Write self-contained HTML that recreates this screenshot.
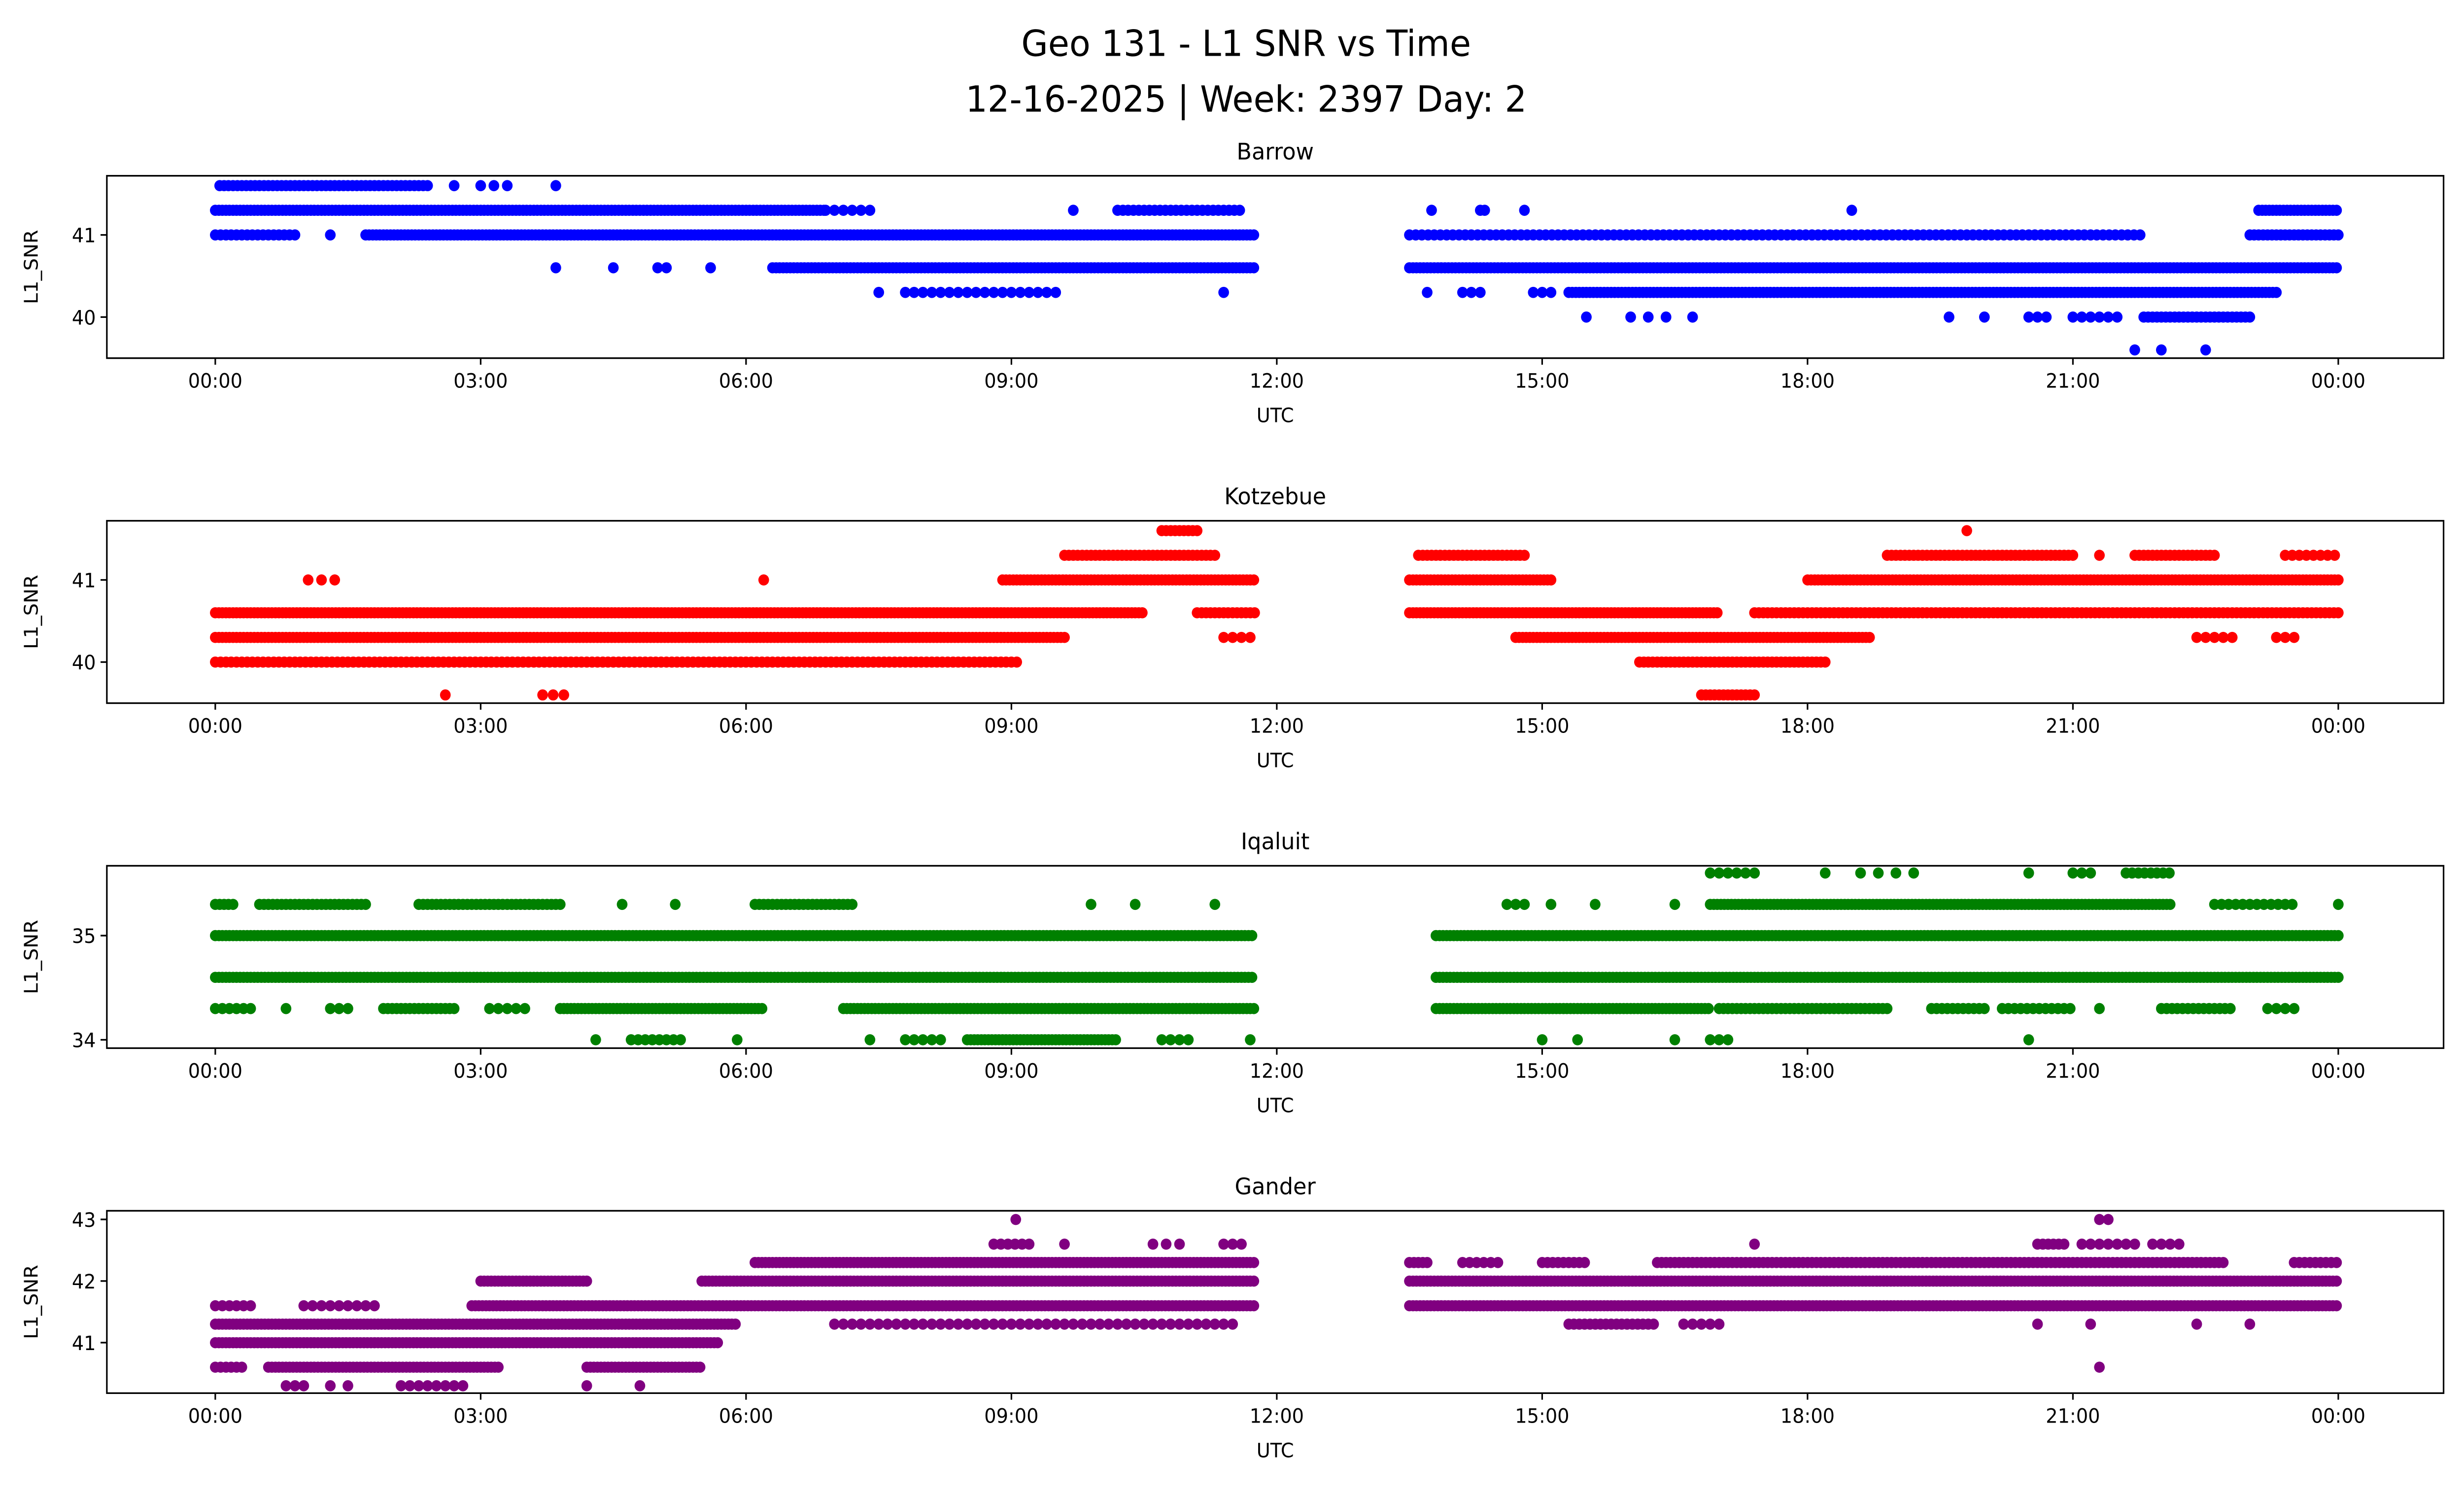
<!DOCTYPE html>
<html><head><meta charset="utf-8"><style>
html,body{margin:0;padding:0;background:#fff;overflow:hidden;width:100vw;height:100vh;}
svg{display:block;width:100vw;height:100vh;font-family:"DejaVu Sans","Liberation Sans",sans-serif;}
</style></head><body>
<svg id="chart" viewBox="0 0 1568 910" preserveAspectRatio="none" xmlns="http://www.w3.org/2000/svg">
<rect width="1568" height="910" fill="#fff"/>
<text x="793" y="34" font-size="22" text-anchor="middle">Geo 131 - L1 SNR vs Time</text>
<text x="793" y="68" font-size="22" text-anchor="middle">12-16-2025 | Week: 2397 Day: 2</text>
<g id="panels"></g>
</svg>
<script>
// x-axis tick labels (hours)
const xTickHours = [0,3,6,9,12,15,18,21,24];
const xTickLabels = ["00:00","03:00","06:00","09:00","12:00","15:00","18:00","21:00","00:00"];
// station names and colors
const stations = ["Barrow","Kotzebue","Iqaluit","Gander"];
const colors = ["#0000ff","#ff0000","#008000","#800080"];
const yDomains = [[39.5,41.72],[39.5,41.72],[33.92,35.67],[40.18,43.14]];
const yTicks = [[40,41],[40,41],[34,35],[41,42,43]];
// runs: [snr level, start hour, end hour, sample step hours]
const barrowRuns = [
 [41.6,0.05,2.4,0.05],[41.6,2.7,2.7,1],[41.6,3.0,3.3,0.15],[41.6,3.85,3.85,1],
 [41.3,0,6.9,0.04],[41.3,6.9,7.4,0.1],[41.3,9.7,9.7,1],[41.3,10.2,11.6,0.06],[41.3,13.75,13.75,1],[41.3,14.3,14.35,0.05],[41.3,14.8,14.8,1],[41.3,18.5,18.5,1],[41.3,23.1,24,0.04],
 [41.0,0,0.95,0.06],[41.0,1.3,1.3,1],[41.0,1.7,11.75,0.04],[41.0,13.5,21.8,0.07],[41.0,23.0,24,0.05],
 [40.6,3.85,3.85,1],[40.6,4.5,4.5,1],[40.6,5.0,5.1,0.1],[40.6,5.6,5.6,1],[40.6,6.3,11.75,0.04],[40.6,13.5,24,0.04],
 [40.3,7.5,7.5,1],[40.3,7.8,9.5,0.1],[40.3,11.4,11.4,1],[40.3,13.7,13.7,1],[40.3,14.1,14.3,0.1],[40.3,14.9,15.1,0.1],[40.3,15.3,23.3,0.04],
 [40.0,15.5,15.5,1],[40.0,16.0,16.4,0.2],[40.0,16.7,16.7,1],[40.0,19.6,19.6,1],[40.0,20.0,20.0,1],[40.0,20.5,20.7,0.1],[40.0,21.0,21.5,0.1],[40.0,21.8,23.0,0.05],
 [39.6,21.7,21.7,1],[39.6,22.0,22.0,1],[39.6,22.5,22.5,1]
];
const kotzebueRuns = [
 [41.6,10.7,11.1,0.05],[41.6,19.8,19.8,1],
 [41.3,9.6,11.3,0.05],[41.3,13.6,14.8,0.05],[41.3,18.9,21.0,0.05],[41.3,21.3,21.3,1],[41.3,21.7,22.6,0.05],[41.3,23.4,24,0.08],
 [41.0,1.05,1.35,0.15],[41.0,6.2,6.2,1],[41.0,8.9,11.75,0.04],[41.0,13.5,15.1,0.04],[41.0,18.0,24,0.04],
 [40.6,0,10.5,0.04],[40.6,11.1,11.75,0.05],[40.6,13.5,17.0,0.04],[40.6,17.4,24,0.05],
 [40.3,0,9.6,0.04],[40.3,11.4,11.75,0.1],[40.3,14.7,18.7,0.04],[40.3,22.4,22.8,0.1],[40.3,23.3,23.5,0.1],
 [40.0,0,9.1,0.06],[40.0,16.1,18.2,0.05],
 [39.6,2.6,2.6,1],[39.6,3.7,3.95,0.12],[39.6,16.8,17.4,0.05]
];
const iqaluitRuns = [
 [35.6,16.9,17.4,0.1],[35.6,18.2,18.2,1],[35.6,18.6,19.0,0.2],[35.6,19.2,19.2,1],[35.6,20.5,20.5,1],[35.6,21.0,21.2,0.1],[35.6,21.6,22.1,0.07],
 [35.3,0,0.2,0.05],[35.3,0.5,1.7,0.05],[35.3,2.3,3.9,0.05],[35.3,4.6,4.6,1],[35.3,5.2,5.2,1],[35.3,6.1,7.2,0.05],[35.3,9.9,9.9,1],[35.3,10.4,10.4,1],[35.3,11.3,11.3,1],[35.3,14.6,14.8,0.1],[35.3,15.1,15.1,1],[35.3,15.6,15.6,1],[35.3,16.5,16.5,1],[35.3,16.9,22.1,0.04],[35.3,22.6,23.5,0.08],[35.3,24,24,1],
 [35.0,0,11.75,0.04],[35.0,13.8,24,0.04],
 [34.6,0,11.75,0.04],[34.6,13.8,24,0.04],
 [34.3,0,0.4,0.08],[34.3,0.8,0.8,1],[34.3,1.3,1.5,0.1],[34.3,1.9,2.7,0.05],[34.3,3.1,3.5,0.1],[34.3,3.9,6.2,0.04],[34.3,7.1,11.75,0.04],[34.3,13.8,16.9,0.04],[34.3,17.0,18.9,0.05],[34.3,19.4,20.0,0.06],[34.3,20.2,21.0,0.07],[34.3,21.3,21.3,1],[34.3,22.0,22.8,0.06],[34.3,23.2,23.5,0.1],
 [34.0,4.3,4.3,1],[34.0,4.7,5.3,0.08],[34.0,5.9,5.9,1],[34.0,7.4,7.4,1],[34.0,7.8,8.2,0.1],[34.0,8.5,10.2,0.04],[34.0,10.7,11.0,0.1],[34.0,11.7,11.7,1],[34.0,15.0,15.0,1],[34.0,15.4,15.4,1],[34.0,16.5,16.5,1],[34.0,16.9,17.1,0.1],[34.0,20.5,20.5,1]
];
const ganderRuns = [
 [43.0,9.05,9.05,1],[43.0,21.3,21.4,0.1],
 [42.6,8.8,9.2,0.08],[42.6,9.6,9.6,1],[42.6,10.6,10.9,0.15],[42.6,11.4,11.6,0.1],[42.6,17.4,17.4,1],[42.6,20.6,20.9,0.06],[42.6,21.1,21.7,0.1],[42.6,21.9,22.2,0.1],
 [42.3,6.1,11.75,0.04],[42.3,13.5,13.7,0.05],[42.3,14.1,14.5,0.08],[42.3,15.0,15.5,0.06],[42.3,16.3,22.7,0.05],[42.3,23.5,24,0.06],
 [42.0,3.0,4.2,0.04],[42.0,5.5,11.75,0.04],[42.0,13.5,24,0.04],
 [41.6,0,0.4,0.08],[41.6,1.0,1.8,0.1],[41.6,2.9,11.75,0.04],[41.6,13.5,24,0.04],
 [41.3,0,5.9,0.04],[41.3,7.0,11.5,0.1],[41.3,15.3,16.3,0.06],[41.3,16.6,17.0,0.1],[41.3,20.6,20.6,1],[41.3,21.2,21.2,1],[41.3,22.4,22.4,1],[41.3,23.0,23.0,1],
 [41.0,0,5.7,0.04],
 [40.6,0,0.35,0.06],[40.6,0.6,3.2,0.04],[40.6,4.2,5.5,0.04],[40.6,21.3,21.3,1],
 [40.3,0.8,1.0,0.1],[40.3,1.3,1.3,1],[40.3,1.5,1.5,1],[40.3,2.1,2.8,0.1],[40.3,4.2,4.2,1],[40.3,4.8,4.8,1]
];
const allRuns = [barrowRuns,kotzebueRuns,iqaluitRuns,ganderRuns];

const NS="http://www.w3.org/2000/svg";
const X0=68,X1=1555,H0=137,H24=1488;
const tops=[107,317,527,737],PH=111;
function xs(h){return H0+(H24-H0)*h/24;}
function mk(tag,attrs,parent){const e=document.createElementNS(NS,tag);for(const k in attrs)e.setAttribute(k,attrs[k]);parent.appendChild(e);return e;}
const root=document.getElementById('panels');
stations.forEach((name,i)=>{
  const top=tops[i],bot=top+PH,[d0,d1]=yDomains[i];
  const ys=v=>bot-(v-d0)/(d1-d0)*PH;
  const g=mk('g',{},root);
  
  
  const t=mk('text',{x:(X0+X1)/2,y:top-10,'font-size':14,'text-anchor':'middle'},g);t.textContent=name;
  
  
  const clip=mk('clipPath',{id:'c'+i},g);mk('rect',{x:X0,y:top,width:X1-X0,height:PH},clip);
  const pts=mk('g',{fill:colors[i],'clip-path':'url(#c'+i+')'},g);
  
  
  allRuns[i].forEach(r=>{
    const [lv,s,e,st]=r;
    for(let h=s;h<=e+1e-9;h+=st){
      const c=mk('circle',{cx:xs(h).toFixed(1),cy:ys(lv).toFixed(1),r:3.4},pts);
      
      
    }
  });
  const fr=mk('rect',{x:X0,y:top,width:X1-X0,height:PH,fill:'none',stroke:'#000','stroke-width':1},g);
  
  
  xTickHours.forEach((h,k)=>{
    const x=xs(h);
    mk('line',{x1:x,x2:x,y1:bot,y2:bot+4,stroke:'#000'},g);
    const tl=mk('text',{x:x,y:bot+18,'font-size':12,'text-anchor':'middle'},g);tl.textContent=xTickLabels[k];
    
    
  });
  yTicks[i].forEach(v=>{
    const y=ys(v);
    mk('line',{x1:X0-4,x2:X0,y1:y,y2:y,stroke:'#000'},g);
    const tl=mk('text',{x:X0-7,y:y+4.5,'font-size':12,'text-anchor':'end'},g);tl.textContent=v;
    
    
  });
  const xl=mk('text',{x:(X0+X1)/2,y:bot+39,'font-size':12,'text-anchor':'middle'},g);xl.textContent='UTC';
  
  
  const yl=mk('text',{x:0,y:0,'font-size':12,'text-anchor':'middle',transform:'translate(24,'+(top+PH/2)+') rotate(-90)'},g);yl.textContent='L1_SNR';
  
  
});
</script>
</body></html>
